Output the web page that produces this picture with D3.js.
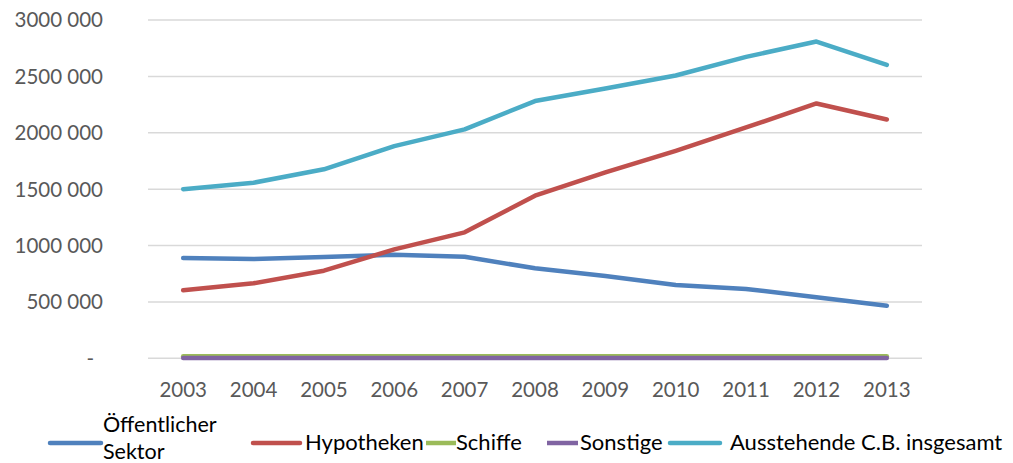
<!DOCTYPE html>
<html>
<head>
<meta charset="utf-8">
<script src="https://cdn.jsdelivr.net/npm/d3@7"></script>
<style>
  body { margin: 0; background: #fff; }
  svg { display: block; font-family: Lato, "Open Sans", sans-serif; }
</style>
</head>
<body>
<svg id="chart"></svg>
<script>
const width = 1013;
const height = 463;

const years = ['2003', '2004', '2005', '2006', '2007', '2008', '2009', '2010', '2011', '2012', '2013'];

const oeffentlich = [889000, 880000, 898000, 918000, 901000, 798000, 730000, 650000, 615000, 541000, 466000];
const hypotheken = [603000, 665000, 777000, 966000, 1117000, 1442000, 1648000, 1840000, 2047000, 2260000, 2118000];
const schiffe = [18000, 18000, 18000, 18000, 18000, 18000, 18000, 18000, 18000, 18000, 18000];
const sonstige = [2000, 2000, 2000, 2000, 2000, 2000, 2000, 2000, 2000, 2000, 2000];
const ausstehend = [1500000, 1557000, 1676000, 1882000, 2030000, 2281000, 2392000, 2508000, 2673000, 2809000, 2602000];

const yTicks = [0, 500000, 1000000, 1500000, 2000000, 2500000, 3000000];
const yTickLabels = ['-', '500 000', '1000 000', '1500 000', '2000 000', '2500 000', '3000 000'];

const seriesNames = ['Öffentlicher Sektor', 'Hypotheken', 'Schiffe', 'Sonstige', 'Ausstehende C.B. insgesamt'];
const seriesColors = ['#4F81BD', '#C0504D', '#9BBB59', '#8064A2', '#4BACC6'];

const series = [oeffentlich, hypotheken, schiffe, sonstige, ausstehend].map((vals, i) => ({
    name: seriesNames[i],
    color: seriesColors[i],
    values: vals
}));

const svg = d3.select('#chart')
    .attr('width', width)
    .attr('height', height);

const x = d3.scalePoint()
    .domain(years)
    .range([148, 922])
    .padding(0.5);

const y = d3.scaleLinear()
    .domain([0, 3000000])
    .range([358.3, 20]);

// grid
svg.append('g')
    .selectAll('line')
    .data(yTicks)
    .enter()
    .append('line')
    .attr('x1', 148)
    .attr('x2', 922)
    .attr('y1', d => y(d))
    .attr('y2', d => y(d))
    .attr('stroke', '#d9d9d9')
    .attr('stroke-width', 1.5);

// y labels
svg.append('g')
    .selectAll('text')
    .data(yTicks)
    .enter()
    .append('text')
    .attr('x', (d, i) => i === 0 ? 94 : 103)
    .attr('y', d => y(d))
    .attr('dy', '0.36em')
    .attr('text-anchor', 'end')
    .attr('font-size', 20.5)
    .attr('fill', '#595959')
    .text((d, i) => yTickLabels[i]);

// x labels
svg.append('g')
    .selectAll('text')
    .data(years)
    .enter()
    .append('text')
    .attr('x', d => x(d))
    .attr('y', 397)
    .attr('text-anchor', 'middle')
    .attr('font-size', 20.5)
    .attr('fill', '#595959')
    .text(d => d);

// lines
const line = d3.line()
    .x((d, i) => x(years[i]))
    .y(d => y(d));

svg.append('g')
    .selectAll('path')
    .data(series)
    .enter()
    .append('path')
    .attr('fill', 'none')
    .attr('stroke', d => d.color)
    .attr('stroke-width', 4.5)
    .attr('stroke-linecap', 'round')
    .attr('stroke-linejoin', 'round')
    .attr('d', d => line(d.values));

// legend
const legendPos = [
    { x1: 50, x2: 101, tx: 103 },
    { x1: 253, x2: 300, tx: 305 },
    { x1: 426, x2: 456, tx: 456 },
    { x1: 547, x2: 578, tx: 580 },
    { x1: 670, x2: 720, tx: 730 }
];
const legendY = 443;

const legend = svg.append('g');
series.forEach((s, i) => {
    const p = legendPos[i];
    legend.append('line')
        .attr('x1', p.x1)
        .attr('x2', p.x2)
        .attr('y1', legendY)
        .attr('y2', legendY)
        .attr('stroke', s.color)
        .attr('stroke-width', 4.5)
        .attr('stroke-linecap', i === 0 || i === 1 || i === 4 ? 'round' : 'butt');

    if (i === 0) {
        const words = s.name.split(' ');
        legend.append('text')
            .attr('x', p.tx).attr('y', 432)
            .attr('font-size', 21.5).attr('fill', '#000')
            .text(words[0]);
        legend.append('text')
            .attr('x', p.tx).attr('y', 459)
            .attr('font-size', 21.5).attr('fill', '#000')
            .text(words[1]);
    } else {
        legend.append('text')
            .attr('x', p.tx).attr('y', 450)
            .attr('font-size', 22).attr('fill', '#000')
            .text(s.name);
    }
});
</script>
</body>
</html>
